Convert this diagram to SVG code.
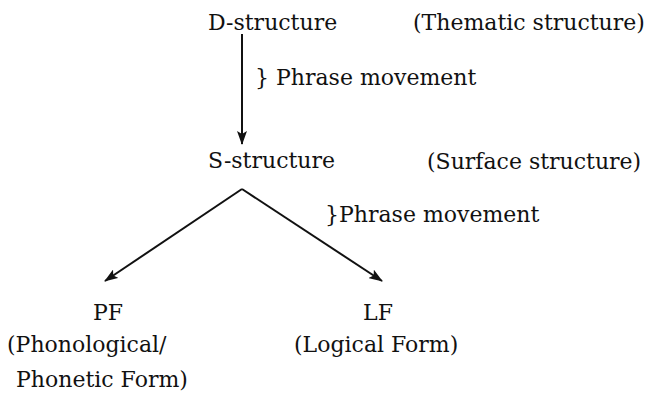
<svg xmlns="http://www.w3.org/2000/svg" width="650" height="410" viewBox="0 0 650 410">
<style>
text{font-family:"DejaVu Serif","Liberation Serif",serif;font-size:22px;fill:#111}
.c{stroke:#111;stroke-width:2;fill:none}
</style>
<defs>
<marker id="ah" viewBox="0 0 14 10" refX="13" refY="5" markerWidth="14" markerHeight="10" markerUnits="userSpaceOnUse" orient="auto">
<path d="M0,0 L14,5 L0,10 L3,5 Z" fill="#111"/>
</marker>
</defs>
<rect width="650" height="410" fill="#fff"/>
<g id="connectors">
<line class="c" x1="242" y1="34" x2="242" y2="144" marker-end="url(#ah)"/>
<line class="c" x1="242" y1="189" x2="105" y2="281" marker-end="url(#ah)"/>
<line class="c" x1="242" y1="189" x2="382" y2="281" marker-end="url(#ah)"/>
</g>
<g id="labels">
<text x="255" y="85">} Phrase movement</text>
<text x="325" y="222">}Phrase movement</text>
</g>
<g id="d-structure"><text x="208" y="30">D-structure</text><text x="413" y="30">(Thematic structure)</text></g>
<g id="s-structure"><text x="208" y="168">S-structure</text><text x="427" y="169">(Surface structure)</text></g>
<g id="pf"><text x="108" y="320" text-anchor="middle">PF</text><text x="7" y="352">(Phonological/</text><text x="16" y="387">Phonetic Form)</text></g>
<g id="lf"><text x="378" y="320" text-anchor="middle">LF</text><text x="294" y="352">(Logical Form)</text></g>
</svg>
